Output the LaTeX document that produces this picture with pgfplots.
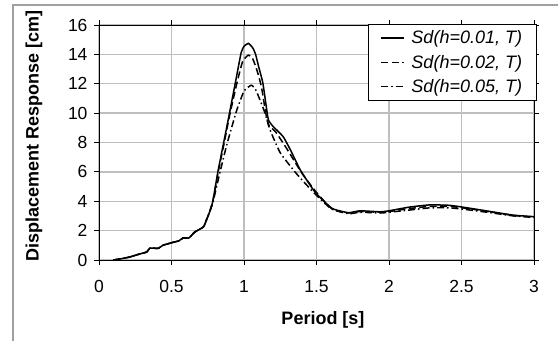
\documentclass[border=0pt]{standalone}
\usepackage{fontspec}
\setmainfont{Liberation Sans}
\usepackage{pgfplots}
\pgfplotsset{compat=1.18}
\definecolor{gridgray}{RGB}{190,190,190}
\definecolor{framegray}{RGB}{160,160,160}
\begin{document}
\begin{tikzpicture}
\path[use as bounding box] (0pt,0pt) rectangle (558pt,341pt);
\draw[framegray, line width=1.6pt] (13pt,0pt) -- (13pt,336pt) -- (560pt,336pt);
\begin{axis}[
  at={(99pt,81pt)}, anchor=south west,
  scale only axis, width=435pt, height=235pt,
  xmin=0, xmax=3, ymin=0, ymax=16,
  xtick={0,0.5,...,3}, ytick={0,2,...,16},
  xticklabels={0,0.5,1,1.5,2,2.5,3},
  grid=major,
  major grid style={gridgray, line width=1.3pt},
  axis line style={black, line width=1pt},
  tick align=outside, major tick length=5pt,
  tick style={black, line width=1pt},
  /pgf/number format/assume math mode=true,
  tick label style={font=\fontsize{17.5}{19}\selectfont},
  xticklabel style={yshift=-12pt},
  yticklabel style={xshift=-3pt},
  legend style={at={(1.0069,1.0043)}, anchor=north east, draw=black, fill=white,
    line width=0.9pt, font=\fontsize{18}{20}\selectfont\itshape,
    inner xsep=12pt, inner ysep=4pt, row sep=4.5pt, column sep=4pt,
    nodes={inner sep=2.5pt}},
  legend cell align=left,
  legend image code/.code={\draw[#1] (0pt,0pt) -- (23pt,0pt);},
]
\addplot[black, line width=1.5pt, smooth, tension=0.3] coordinates {
(0.10,0.0) (0.15,0.08) (0.21,0.2) (0.27,0.38) (0.33,0.55) (0.35,0.8) (0.41,0.8)
(0.44,1.0) (0.51,1.2) (0.55,1.3) (0.58,1.5) (0.62,1.5) (0.66,1.9) (0.72,2.25)
(0.74,2.7) (0.76,3.2) (0.785,4.0) (0.82,6.0) (0.86,8.0) (0.89,9.5) (0.94,12.05)
(0.98,14.1) (1.00,14.55) (1.03,14.75) (1.06,14.45) (1.08,14.0) (1.10,13.2)
(1.13,12.05) (1.16,10.0) (1.17,9.5) (1.20,9.1) (1.27,8.4) (1.32,7.5) (1.39,6.1)
(1.48,4.75) (1.52,4.3) (1.61,3.5) (1.72,3.22) (1.80,3.35) (1.94,3.28) (2.00,3.35)
(2.14,3.6) (2.28,3.75) (2.42,3.72) (2.56,3.52) (2.70,3.3) (2.86,3.05) (3.00,2.95)
};
\addlegendentry{Sd(h=0.01, T)}
\addplot[black, line width=1.5pt, dash pattern=on 7pt off 3.5pt, smooth, tension=0.3] coordinates {
(0.10,0.0) (0.15,0.08) (0.21,0.2) (0.27,0.38) (0.33,0.55) (0.35,0.8) (0.41,0.8)
(0.44,1.0) (0.51,1.2) (0.55,1.3) (0.58,1.5) (0.62,1.5) (0.66,1.9) (0.72,2.25)
(0.74,2.7) (0.76,3.2) (0.785,4.0) (0.82,5.9) (0.86,7.8) (0.90,9.8) (0.95,12.0)
(0.99,13.5) (1.03,13.95) (1.06,13.7) (1.09,12.9) (1.12,11.8) (1.15,10.0)
(1.17,9.2) (1.22,8.7) (1.30,7.5) (1.40,5.9) (1.50,4.6) (1.61,3.45) (1.72,3.2)
(1.80,3.3) (1.94,3.25) (2.00,3.3) (2.14,3.5) (2.28,3.65) (2.42,3.65) (2.56,3.48)
(2.70,3.27) (2.86,3.03) (3.00,2.93)
};
\addlegendentry{Sd(h=0.02, T)}
\addplot[black, line width=1.5pt, dash pattern=on 7pt off 3pt on 1.5pt off 3pt, smooth, tension=0.3] coordinates {
(0.10,0.0) (0.15,0.08) (0.21,0.2) (0.27,0.38) (0.33,0.55) (0.35,0.8) (0.41,0.8)
(0.44,1.0) (0.51,1.2) (0.55,1.3) (0.58,1.5) (0.62,1.5) (0.66,1.9) (0.72,2.25)
(0.74,2.7) (0.76,3.2) (0.785,3.9) (0.835,6.0) (0.88,7.8) (0.92,9.2) (0.95,10.2)
(1.00,11.5) (1.05,11.9) (1.08,11.6) (1.11,10.9) (1.145,10.0) (1.18,8.85)
(1.25,7.3) (1.36,5.9) (1.48,4.6) (1.60,3.5) (1.72,3.15) (1.80,3.25) (1.94,3.2)
(2.00,3.25) (2.14,3.4) (2.28,3.55) (2.42,3.55) (2.56,3.4) (2.70,3.22) (2.86,3.0)
(3.00,2.9)
};
\addlegendentry{Sd(h=0.05, T)}
\end{axis}
\node[rotate=90, font=\fontsize{18}{20}\selectfont\bfseries] at (34pt,205pt) {Displacement Response [cm]};
\node[font=\fontsize{18}{20}\selectfont\bfseries] at (323pt,21pt) {Period [s]};
\end{tikzpicture}
\end{document}
